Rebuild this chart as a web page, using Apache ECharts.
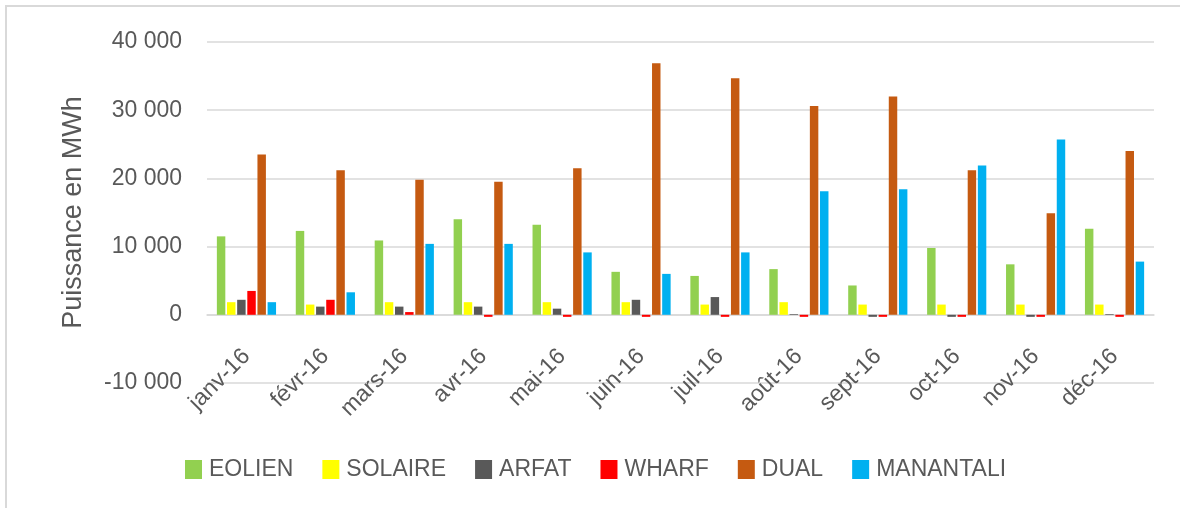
<!DOCTYPE html>
<html>
<head>
<meta charset="utf-8">
<script src="https://cdn.jsdelivr.net/npm/echarts@6/dist/echarts.min.js"></script>
<style>
  body { margin: 0; background: #fff; }
  #frame {
    position: absolute;
    left: 5px;
    top: 5px;
    width: 1300px;
    height: 600px;
    border-left: 2px solid #d9d9d9;
    border-top: 2px solid #d9d9d9;
  }
  #echar {
    position: absolute;
    left: 0;
    top: 0;
    width: 1180px;
    height: 508px;
  }
</style>
</head>
<body>
<div id="frame"></div>
<div id="echar"></div>
<script>
var months = ["janv-16", "févr-16", "mars-16", "avr-16", "mai-16", "juin-16",
  "juil-16", "août-16", "sept-16", "oct-16", "nov-16", "déc-16"];

var eolien = [11500, 12300, 10900, 14000, 13200, 6300, 5700, 6700, 4300, 9800, 7400, 12600];
var solaire = [1850, 1500, 1850, 1850, 1850, 1850, 1500, 1850, 1500, 1500, 1500, 1500];
var arfat = [2200, 1200, 1200, 1200, 900, 2200, 2600, 100, -300, -300, -300, 100];
var wharf = [3500, 2200, 400, -300, -300, -300, -300, -300, -300, -300, -300, -300];
var dual = [23500, 21200, 19800, 19500, 21500, 36900, 34700, 30600, 32000, 21200, 14900, 24000];
var manantali = [1850, 3300, 10400, 10400, 9150, 6000, 9150, 18100, 18400, 21900, 25700, 7800];

var seriesNames = ["EOLIEN", "SOLAIRE", "ARFAT", "WHARF", "DUAL", "MANANTALI"];
var colors = ["#92d050", "#ffff00", "#595959", "#ff0000", "#c55a11", "#00b0f0"];
var allData = [eolien, solaire, arfat, wharf, dual, manantali];

var yMin = -10000;
var yMax = 40000;
var gridTop = 42;
var gridBottom = 125;

var mychart = echarts.init(document.getElementById("echar"));

function fmt(v) {
  // espace comme séparateur de milliers
  var s = String(Math.abs(v)).replace(/\B(?=(\d{3})+(?!\d))/g, " ");
  return (v < 0 ? "-" : "") + s;
}

var font = "Liberation Sans";
// l'axe des catégories passe par zéro : on le remonte depuis le bas de la grille
var plotH = 508 - gridTop - gridBottom;
var zeroOffset = -plotH * (0 - yMin) / (yMax - yMin);

var option = {
  animation: false,
  color: colors,
  textStyle: { fontFamily: font },
  grid: {
    left: 207,
    right: 26,
    top: gridTop,
    bottom: gridBottom,
  },
  legend: {
    left: 185,
    top: 458,
    padding: 0,
    itemWidth: 17,
    itemHeight: 19,
    itemGap: 29,
    icon: "rect",
    textStyle: { fontSize: 23, color: "#595959", fontFamily: font, padding: [0, 0, 0, 2] },
    data: seriesNames,
  },
  xAxis: {
    type: "category",
    data: months,
    offset: zeroOffset,
    axisLine: { onZero: false, lineStyle: { color: "#d9d9d9", width: 1.5 } },
    axisTick: { length: 11, lineStyle: { color: "#d9d9d9", width: 1.5 } },
    axisLabel: {
      rotate: 45,
      margin: 38,
      fontSize: 23,
      color: "#595959",
      fontFamily: font,
      interval: 0,
    },
  },
  yAxis: {
    type: "value",
    min: yMin,
    max: yMax,
    interval: 10000,
    name: "Puissance en MWh",
    nameLocation: "middle",
    nameRotate: 90,
    nameGap: 120,
    nameTextStyle: { fontSize: 27, color: "#595959", fontFamily: font },
    axisLine: { show: false },
    axisTick: { show: false },
    axisLabel: {
      margin: 25,
      fontSize: 23,
      color: "#595959",
      fontFamily: font,
      formatter: fmt,
    },
    splitLine: { lineStyle: { color: "#d9d9d9", width: 1.5 } },
  },
  series: seriesNames.map(function (name, i) {
    return {
      name: name,
      type: "bar",
      data: allData[i],
      barGap: "20%",
      barCategoryGap: "25%",
    };
  }),
};

mychart.setOption(option);
</script>
</body>
</html>
